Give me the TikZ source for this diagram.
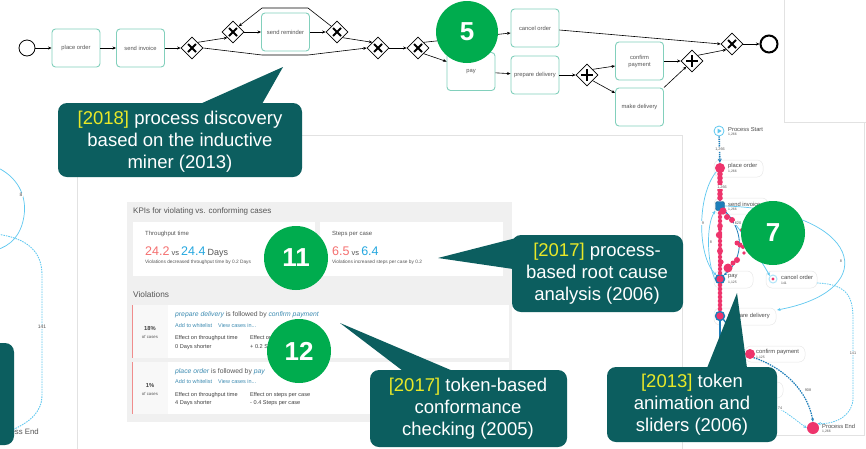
\documentclass[tikz,border=0pt]{standalone}
\usepackage{fontspec}
\setmainfont{Liberation Sans}
\usetikzlibrary{shapes.geometric,arrows.meta,calc}
\pgfdeclarelayer{back}
\pgfdeclarelayer{links}
\pgfsetlayers{back,links,main}

\definecolor{callteal}{RGB}{12,94,95}
\definecolor{yearcol}{RGB}{232,232,40}
\definecolor{badgec}{RGB}{0,172,78}
\definecolor{taskc}{RGB}{130,208,188}
\definecolor{txtgray}{RGB}{85,85,85}
\definecolor{panelc}{RGB}{226,226,226}
\definecolor{kpibg}{RGB}{240,240,240}
\definecolor{kred}{RGB}{245,112,112}
\definecolor{kblue}{RGB}{38,168,224}
\definecolor{linkc}{RGB}{62,140,178}
\definecolor{cellbg}{RGB}{248,248,248}
\definecolor{vbar}{RGB}{240,140,140}
\definecolor{tokenc}{RGB}{238,52,108}
\definecolor{mblue}{RGB}{28,125,185}
\definecolor{lblue}{RGB}{95,200,240}
\definecolor{pillc}{RGB}{232,232,232}

\newcommand\fsz[2]{\fontsize{#1}{#2}\selectfont}

\begin{document}
\begin{tikzpicture}[x=1pt,y=-1pt,
  >={Stealth[length=3.5pt,width=3pt]},
  task/.style={draw=taskc, line width=0.9pt, rounded corners=3.5pt, fill=white,
    minimum width=48pt, minimum height=38pt, inner sep=1pt, align=center,
    text=txtgray, font=\fsz{5.8}{7}},
  xgate/.style={diamond, draw, line width=0.7pt, fill=white, minimum size=22pt, inner sep=0pt,
    path picture={\draw[line width=1.9pt]
      ([shift={(-4,-4)}]path picture bounding box.center) -- ([shift={(4,4)}]path picture bounding box.center)
      ([shift={(-4,4)}]path picture bounding box.center) -- ([shift={(4,-4)}]path picture bounding box.center);}},
  pgate/.style={diamond, draw, line width=0.7pt, fill=white, minimum size=22pt, inner sep=0pt,
    path picture={\draw[line width=2.2pt]
      ([shift={(0,-6)}]path picture bounding box.center) -- ([shift={(0,6)}]path picture bounding box.center)
      ([shift={(-6,0)}]path picture bounding box.center) -- ([shift={(6,0)}]path picture bounding box.center);}},
  flow/.style={->, line width=0.6pt},
  startev/.style={circle, draw, line width=0.8pt, fill=white, minimum size=16pt, inner sep=0pt},
  endev/.style={circle, draw, line width=2pt, fill=white, minimum size=17pt, inner sep=0pt},
  numbadge/.style={circle, fill=badgec, minimum size=64pt, inner sep=0pt, text=white,
    font=\bfseries\fsz{26}{26}},
  calltext/.style={text=white, align=center, font=\fsz{18.5}{22}, inner sep=0pt},
  ui/.style={anchor=west, inner sep=0pt, text=txtgray},
  pill/.style={draw=pillc, fill=white, line width=0.5pt, rounded corners=6pt},
  mtxt/.style={anchor=west, inner sep=0pt, text=black!70, font=\fsz{5.8}{6}},
  mnum/.style={anchor=west, inner sep=0pt, text=txtgray, font=\fsz{3.4}{4}},
  elab/.style={fill=white, inner sep=0.6pt, text=txtgray, font=\fsz{3.8}{4}},
  mlink/.style={-{Stealth[length=3.5pt,width=3pt]}},
  dotted line/.style={dash pattern=on 1.5pt off 1pt}
]
\useasboundingbox (0,0) rectangle (866,448);

% ---------- page background, screenshot frames, map label pills
\begin{pgfonlayer}{back}
\fill[white] (0,0) rectangle (866,448);
\draw[panelc, line width=0.6pt] (784,0) -- (784,122) -- (866,122);
\draw[panelc, line width=0.6pt] (77,460) -- (77,135) -- (682,135) -- (682,460);
\draw[panelc, line width=0.6pt] (682,435) -- (864,435) -- (864,122);
\draw[pill] (714,160) rectangle (763,177);
\draw[pill] (714,198) rectangle (768,214);
\draw[pill] (714,271) rectangle (753,288);
\draw[pill] (766,271) rectangle (817,288);
\draw[pill] (714,308) rectangle (776,325);
\draw[pill] (745,346) rectangle (805,362);
\draw[pill] (712,382) rectangle (783,398);
\end{pgfonlayer}

% ---------- BPMN model
\node[startev] (start) at (27,48) {};
\node[task] (place) at (76,48) {place order};
\node[task] (invoice) at (140.5,48) {send invoice};
\node[xgate] (g1) at (192,48) {};
\node[xgate] (g2) at (233,32) {};
\node[task] (remind) at (285.5,32) {send reminder};
\node[xgate] (g3) at (337,32) {};
\node[xgate] (g4) at (378,48) {};
\node[xgate] (g5) at (418,48) {};
\node[task] (cancel) at (535,28) {cancel order};
\node[task] (pay) at (471,71.5) {pay};
\node[task] (prep) at (535,75) {prepare delivery};
\node[pgate] (p1) at (587,75) {};
\node[task] (confirm) at (639.5,61) {confirm\\payment};
\node[task] (make) at (639.5,107) {make delivery};
\node[pgate] (p2) at (692,61) {};
\node[xgate] (g6) at (732,44) {};
\node[endev] (end) at (769,44) {};

\draw[flow] (start) -- (place);
\draw[flow] (place) -- (invoice);
\draw[flow] (invoice) -- (g1);
\draw[flow] (g1.north east) -- (g2.south west);
\draw[flow] (g2) -- (remind);
\draw[flow] (remind) -- (g3);
\draw[flow] (g3.south east) -- (g4.north west);
\draw[flow] (g3.north west) -- (308,8) -- (262,8) -- (g2.north east);
\draw[flow] (g1.east) -- (262,55) -- (308,55) -- (g4.west);
\draw[flow] (g4) -- (g5);
\draw[flow] (g5.north east) -- ($(cancel.west)+(0,5)$);
\draw[flow] (g5.south east) -- ($(pay.west)+(0,-10)$);
\draw[flow] (pay) -- (prep);
\draw[flow] (prep) -- (p1);
\draw[flow] (p1.north east) -- ($(confirm.west)+(0,5)$);
\draw[flow] (p1.south east) -- ($(make.west)+(0,-14)$);
\draw[flow] (confirm) -- (p2);
\draw[flow] (make.north east) -- (p2.south west);
\draw[flow] ($(cancel.east)+(0,2)$) -- (g6.west);
\draw[flow] (p2.north east) -- (g6.south west);
\draw[flow] (g6) -- (end);

% ---------- process map fragment on the left edge
\begin{scope}
\clip (0,0) rectangle (76,448);
\draw[lblue, line width=0.7pt] (-6,166) .. controls (18,176) and (27,196) .. (24,216)
  .. controls (21,236) and (10,246) .. (-4,250);
\node[elab, font=\fsz{5}{5}] (l8) at (21,195) {8};
\draw[lblue, line width=0.9pt, dotted line] (-4,234) .. controls (28,238) and (42,252) .. (42,275)
  -- (42,395) .. controls (42,412) and (30,422) .. (12,430);
\node[elab, font=\fsz{5}{5}] (l141) at (42,327) {141};
\node[anchor=east, inner sep=0pt, text=txtgray, font=\fsz{7.8}{8}] (lend) at (39,432) {Process End};
\fill[callteal, rounded corners=9pt] (-20,343) rectangle (14,445);
\end{scope}

% ---------- KPI comparison panel
\fill[kpibg] (127,202) rectangle (512,422);
\node[ui, font=\fsz{8}{9}] (kpihead) at (133,211) {KPIs for violating vs. conforming cases};
\fill[white] (133,222) rectangle (315,276);
\fill[white] (320,222) rectangle (503,276);
\node[ui, font=\fsz{6}{7}] (tput) at (145,234) {Throughput time};
\node[anchor=base west, inner sep=0pt, font=\fsz{7.5}{8}] (tputval) at (145,255)
  {{\fsz{12.5}{13}\color{kred}24.2} {\color{txtgray}vs} {\fsz{12.5}{13}\color{kblue}24.4} {\fsz{9}{10}\color{txtgray}Days}};
\node[ui, font=\fsz{4.8}{5}] (tputnote) at (145,262) {Violations decreased throughput time by 0.2 Days};
\node[ui, font=\fsz{6}{7}] (steps) at (332,234) {Steps per case};
\node[anchor=base west, inner sep=0pt, font=\fsz{7.5}{8}] (stepsval) at (332,255)
  {{\fsz{12.5}{13}\color{kred}6.5} {\color{txtgray}vs} {\fsz{12.5}{13}\color{kblue}6.4}};
\node[ui, font=\fsz{4.8}{5}] (stepsnote) at (332,262) {Violations increased steps per case by 0.2};
\node[ui, font=\fsz{8.3}{9}] (violhead) at (133,295) {Violations};

% violation row 1
\fill[white] (132,305) rectangle (509,358);
\fill[cellbg] (132,305) rectangle (168,358);
\draw[vbar, line width=1.3pt] (132.6,305) -- (132.6,358);
\node[inner sep=0pt, text=black!75, font=\bfseries\fsz{5.8}{6}] (r1pct) at (150,328) {18\%};
\node[inner sep=0pt, text=txtgray, font=\fsz{4.3}{5}] (r1of) at (150,337) {of cases};
\node[ui, font=\fsz{6.8}{8}] (r1rule) at (175,315)
  {\textcolor{linkc}{\itshape prepare delivery} is followed by \textcolor{linkc}{\itshape confirm payment}};
\node[ui, text=linkc, font=\fsz{5.5}{6}] (r1act) at (175,326) {Add to whitelist\hspace{6pt}View cases in...};
\node[ui, text=black!75, font=\fsz{5.6}{6}] (r1e1) at (175,338) {Effect on throughput time};
\node[ui, text=black!75, font=\fsz{5.6}{6}] (r1e2) at (250,338) {Effect on steps per case};
\node[ui, text=black!75, font=\fsz{5.6}{6}] (r1v1) at (175,347) {0 Days shorter};
\node[ui, text=black!75, font=\fsz{5.6}{6}] (r1v2) at (250,347) {+ 0.2 Steps per case};

% violation row 2
\fill[white] (132,362) rectangle (509,414);
\fill[cellbg] (132,362) rectangle (168,414);
\draw[vbar, line width=1.3pt] (132.6,362) -- (132.6,414);
\node[inner sep=0pt, text=black!75, font=\bfseries\fsz{5.8}{6}] (r2pct) at (150,385) {1\%};
\node[inner sep=0pt, text=txtgray, font=\fsz{4.3}{5}] (r2of) at (150,394) {of cases};
\node[ui, font=\fsz{6.8}{8}] (r2rule) at (175,372)
  {\textcolor{linkc}{\itshape place order} is followed by \textcolor{linkc}{\itshape pay}};
\node[ui, text=linkc, font=\fsz{5.5}{6}] (r2act) at (175,382) {Add to whitelist\hspace{6pt}View cases in...};
\node[ui, text=black!75, font=\fsz{5.6}{6}] (r2e1) at (175,395) {Effect on throughput time};
\node[ui, text=black!75, font=\fsz{5.6}{6}] (r2e2) at (250,395) {Effect on steps per case};
\node[ui, text=black!75, font=\fsz{5.6}{6}] (r2v1) at (175,403) {4 Days shorter};
\node[ui, text=black!75, font=\fsz{5.6}{6}] (r2v2) at (250,403) {- 0.4 Steps per case};

% ---------- process map with token animation
\node[circle, draw=lblue, line width=0.8pt, fill=white, minimum size=10pt, inner sep=0pt] (mStart) at (719,131) {};
\fill[lblue] (717.6,128.6) -- (721.6,131) -- (717.6,133.4) -- cycle;
\node[circle, fill=tokenc, minimum size=10pt, inner sep=0pt] (mPlace) at (720,168) {};
\node[rectangle, rounded corners=2pt, fill=mblue, draw=mblue!70!black, minimum size=9pt, inner sep=0pt] (mInvoice) at (720,206) {};
\node[circle, draw=mblue, line width=1.4pt, fill=tokenc, minimum size=9pt, inner sep=0pt] (mPay) at (720,279) {};
\node[circle, draw=lblue!50, line width=1pt, fill=white, minimum size=8pt, inner sep=0pt] (mCancel) at (773,279) {};
\fill[tokenc] (mCancel) circle[radius=1.6pt];
\node[circle, draw=mblue, line width=1.4pt, fill=tokenc, minimum size=9pt, inner sep=0pt] (mPrep) at (720,316) {};
\node[circle, fill=tokenc, minimum size=10pt, inner sep=0pt] (mConfirm) at (750,354) {};
\node[circle, fill=tokenc, minimum size=12pt, inner sep=0pt] (mEnd) at (813,428) {};
\coordinate (mMake) at (745,392);
\coordinate (mCancelOut) at (817,283);
\coordinate (mPrepTip) at (777,310);

\begin{pgfonlayer}{links}
\draw[mblue, line width=1.6pt, dash pattern=on 1.3pt off 0.9pt, -{Stealth[length=4pt,width=4pt]}] (mStart) -- (mPlace);
\draw[mblue, line width=2pt] (mPlace) -- (mInvoice) -- (mPay) -- (mPrep);
\draw[mblue, line width=2pt] (mPrep.south) -- ++(0,32);
\draw[mblue, line width=1.4pt] (mPrep.south east) .. controls (735,335) and (740,350) .. (mConfirm.west);
\draw[lblue, line width=0.7pt, mlink] (mPlace.south west) .. controls (697,195) and (697,255) .. (mPay.north west);
\draw[lblue, line width=0.7pt, mlink] (mPay.west) .. controls (707,262) and (706,225) .. (mInvoice.south west);
\draw[lblue, line width=0.8pt, mlink] (mInvoice.south east) .. controls (742,232) and (758,255) .. (mCancel.north west);
\draw[mblue, line width=0.8pt, mlink] (mInvoice.south east) .. controls (748,235) and (740,262) .. (mPay.north east);
\draw[lblue, line width=0.7pt, mlink] (mInvoice.east) .. controls (860,210) and (885,290) .. (mPrepTip);
\draw[lblue, line width=0.8pt, dotted line, mlink] (mCancelOut) .. controls (850,284) and (853,300) .. (853,320)
  -- (853,398) .. controls (853,414) and (838,424) .. (mEnd.north east);
\draw[mblue, line width=1.2pt, dotted line, mlink] (mConfirm.south east) .. controls (785,368) and (808,392) .. (mEnd.north);
\draw[lblue, line width=0.8pt, dotted line, mlink] (mMake) .. controls (780,405) and (795,420) .. (mEnd.west);
\end{pgfonlayer}

% tokens travelling along the edges
\foreach \y in {174,178,...,200} \fill[tokenc] (720,\y) circle[radius=2.8pt];
\foreach \y in {213,217,...,273} \fill[tokenc] (720,\y) circle[radius=2.2pt];
\foreach \y in {285,289,...,311} \fill[tokenc] (720,\y) circle[radius=2.3pt];
\foreach \x/\y/\r in {719/235/3.2, 720/251/3, 720/226/2.8, 721/262/2.6,
  723/211/3.6, 727/217/3, 732/220/3, 738/223/2.2, 742/230/2, 737/243/2.5, 740/245/2.5,
  743/247/2, 748/250/2, 744/253/1.8, 737/260/3, 733/263/2.5, 728/268/4.5, 760/260/1.5}
  \fill[tokenc] (\x,\y) circle[radius=\r pt];

% map labels
\node[mtxt] (tStart) at (728,129) {Process Start};
\node[mnum] (nStart) at (728,135) {1,266};
\node[mtxt] (tPlace) at (728,166) {place order};
\node[mnum] (nPlace) at (728,172) {1,266};
\node[mtxt] (tInvoice) at (728,204) {send invoice};
\node[mnum] (nInvoice) at (728,210) {1,266};
\node[mtxt] (tPay) at (728,277) {pay};
\node[mnum] (nPay) at (728,283) {1,125};
\node[mtxt] (tCancel) at (781,277) {cancel order};
\node[mnum] (nCancel) at (781,283) {141};
\node[mtxt] (tPrep) at (728,316) {prepare delivery};
\node[mtxt] (tConfirm) at (756,352) {confirm payment};
\node[mnum] (nConfirm) at (756,358) {1,125};
\node[mtxt] (tEnd) at (822,426) {Process End};
\node[mnum] (nEnd) at (822,432) {1,266};

% edge frequencies
\node[elab] (e1) at (720,149) {1,266};
\node[elab] (e2) at (722,187) {1,266};
\node[elab] (e3) at (703,223) {9};
\node[elab] (e4) at (711,242) {8};
\node[elab] (e5) at (738,223) {620};
\node[elab] (e6) at (841,261) {8};
\node[elab] (e7) at (853,353) {141};
\node[elab] (e8) at (808,390) {908};
\node[elab] (e9) at (780,408) {74};

% ---------- callouts
\fill[callteal] (200,104) -- (283,67) -- (262,104) -- cycle;
\fill[callteal, rounded corners=9pt] (58,103) rectangle (302,177);
\node[calltext] (c1) at (180,142) {\textcolor{yearcol}{[2018]} process discovery\\based on the inductive\\miner (2013)};

\fill[callteal] (520,237) -- (438,258) -- (520,270) -- cycle;
\fill[callteal, rounded corners=9pt] (512,235) rectangle (683,312);
\node[calltext] (c2) at (597,274) {\textcolor{yearcol}{[2017]} process-\\based root cause\\analysis (2006)};

\fill[callteal] (403,371) -- (340,323) -- (453,371) -- cycle;
\fill[callteal, rounded corners=9pt] (370,370) rectangle (567,447);
\node[calltext] (c3) at (468,409) {\textcolor{yearcol}{[2017]} token-based\\conformance\\checking (2005)};

\fill[callteal] (707,368) -- (737,293) -- (747,368) -- cycle;
\fill[callteal, rounded corners=9pt] (607,367) rectangle (777,442);
\node[calltext] (c4) at (692,405) {\textcolor{yearcol}{[2013]} token\\animation and\\sliders (2006)};

% ---------- numbered badges
\node[numbadge, minimum size=62pt] (b5) at (467,32) {5};
\node[numbadge] (b11) at (296,258) {11};
\node[numbadge] (b12) at (299,351) {12};
\node[numbadge] (b7) at (773,233) {7};
\end{tikzpicture}
\end{document}
